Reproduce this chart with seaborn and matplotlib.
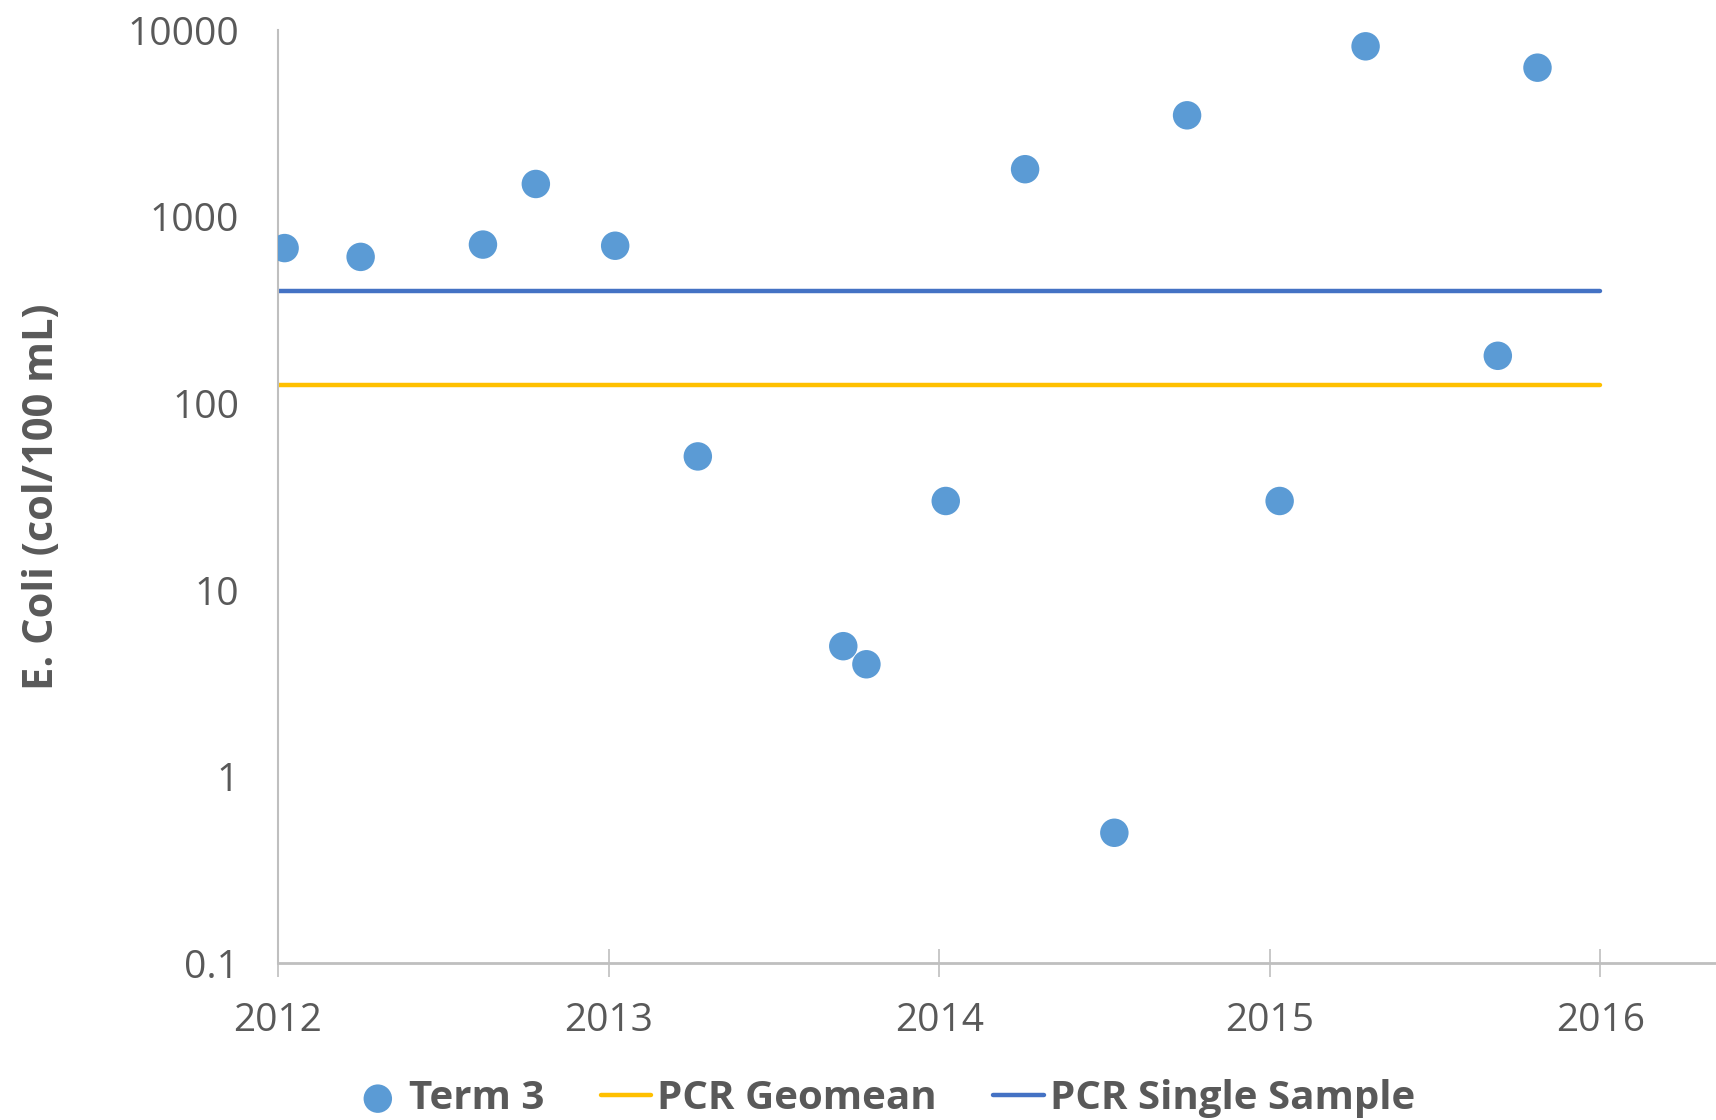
import matplotlib
matplotlib.use("Agg")
import matplotlib.pyplot as plt
import seaborn as sns
import pandas as pd
from matplotlib.ticker import FixedLocator, FixedFormatter, NullLocator

# ---- data ----
sample_years = [2012.02, 2012.25, 2012.62, 2012.78, 2013.02, 2013.27, 2013.71, 2013.78,
                2014.02, 2014.26, 2014.53, 2014.75, 2015.03, 2015.29, 2015.69, 2015.81]
term3_values = [680, 610, 710, 1500, 700, 52, 5, 4,
                30, 1800, 0.5, 3500, 30, 8200, 180, 6300]
limit_years = [2012, 2016]
pcr_geomean = [126, 126]
pcr_single = [400, 400]
x_ticks = [2012, 2013, 2014, 2015, 2016]
x_tick_labels = ["2012", "2013", "2014", "2015", "2016"]
y_ticks = [0.1, 1, 10, 100, 1000, 10000]
y_tick_labels = ["0.1", "1", "10", "100", "1000", "10000"]

sns.set_theme(style="white")
plt.rcParams['font.family'] = ['Open Sans', 'DejaVu Sans']

fig = plt.figure(figsize=(17.16, 11.2), dpi=100)
ax = fig.add_axes([0.162, 0.140, 0.838, 0.833])

df_pts = pd.DataFrame({"year": sample_years, "ecoli": term3_values})
sns.scatterplot(data=df_pts, x="year", y="ecoli", ax=ax, s=420, color="#5B9BD5",
                edgecolor="none", label="Term 3", zorder=3)
sns.lineplot(x=limit_years, y=pcr_geomean, ax=ax, color="#FFC000", linewidth=3.2,
             label="PCR Geomean", zorder=2)
sns.lineplot(x=limit_years, y=pcr_single, ax=ax, color="#4472C4", linewidth=3.2,
             label="PCR Single Sample", zorder=2)

ax.set_yscale("log")
ax.set_ylim(0.1, 10000)
ax.set_xlim(2012, 2016.35)
ax.yaxis.set_major_locator(FixedLocator(y_ticks))
ax.yaxis.set_major_formatter(FixedFormatter(y_tick_labels))
ax.yaxis.set_minor_locator(NullLocator())
ax.set_xticks(x_ticks)
ax.set_xticklabels(x_tick_labels)

for side in ["top", "right"]:
    ax.spines[side].set_visible(False)
for side in ["left", "bottom"]:
    ax.spines[side].set_color("#BFBFBF")
    ax.spines[side].set_linewidth(1.5)
ax.spines["bottom"].set_linewidth(2)

ax.tick_params(axis="x", which="major", direction="inout", length=20, width=1.2,
               color="#BFBFBF", labelsize=28, labelcolor="#595959", pad=18, bottom=True)
ax.tick_params(axis="y", which="major", length=0, labelsize=28, labelcolor="#595959", pad=28)

ax.set_xlabel("")
ax.set_ylabel("E. Coli (col/100 mL)", fontsize=30, fontweight="bold", color="#595959", labelpad=46)

handles, labels = ax.get_legend_handles_labels()
if ax.get_legend() is not None:
    ax.get_legend().remove()
fig.legend(handles, labels, loc="center", bbox_to_anchor=(0.515, 0.019), ncol=3,
           frameon=False, prop={"size": 29, "weight": "bold"}, labelcolor="#595959",
           handlelength=1.25, handletextpad=0.15, columnspacing=1.4, markerscale=1.0)

fig.savefig("out.png", dpi=100, facecolor="white")
